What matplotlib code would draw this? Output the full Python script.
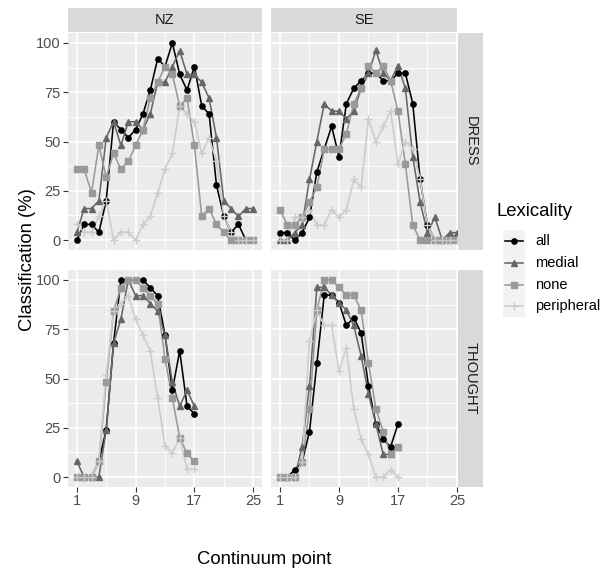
import matplotlib.pyplot as plt

# continuum steps
steps_dress = list(range(1, 26))
steps_thought = list(range(1, 18))

# NZ, DRESS (25 listeners -> steps of 4 %)
nz_dress_all = [0, 8, 8, 4, 20, 60, 56, 52, 56, 64, 76, 92, 88, 100, 84, 76, 88, 68, 64, 28, 12, 4, 8, 0, 0]
nz_dress_medial = [4, 16, 16, 20, 52, 60, 48, 60, 60, 56, 64, 80, 80, 88, 96, 84, 84, 80, 72, 52, 20, 16, 12, 16, 16]
nz_dress_none = [36, 36, 24, 48, 32, 44, 36, 40, 48, 56, 72, 80, 88, 84, 68, 72, 48, 12, 16, 8, 4, 0, 0, 0, 0]
nz_dress_peripheral = [8, 4, 4, 12, 20, 0, 4, 4, 0, 8, 12, 24, 36, 44, 68, 64, 60, 44, 52, 40, 12, 4, 0, 0, 0]

# SE, DRESS
se_dress_all = [3.8, 3.8, 0, 3.8, 11.5, 34.6, 46.2, 57.7, 42.3, 69.2, 76.9, 80.8, 84.6, 84.6, 80.8, 80.8, 84.6, 84.6, 69.2, 30.8, 7.7, 0, 0, 0, 0]
se_dress_medial = [0, 0, 3.8, 7.7, 30.8, 50.0, 69.2, 65.4, 65.4, 61.5, 65.4, 76.9, 84.6, 96.2, 84.6, 80.8, 88.5, 76.9, 42.3, 19.2, 3.8, 11.5, 0, 3.8, 3.8]
se_dress_none = [15.4, 7.7, 7.7, 11.5, 19.2, 26.9, 46.2, 46.2, 46.2, 53.8, 69.2, 76.9, 88.5, 84.6, 88.5, 80.8, 65.4, 38.5, 7.7, 0, 0, 0, 0, 0, 0]
se_dress_peripheral = [0, 0, 11.5, 11.5, 15.4, 7.7, 7.7, 15.4, 11.5, 15.4, 30.8, 26.9, 61.5, 50.0, 57.7, 65.4, 38.5, 50.0, 46.2, 30.8, 7.7, 0, 0, 0, 0]

# NZ, THOUGHT
nz_thought_all = [0, 0, 0, 8, 24, 68, 100, 100, 100, 100, 96, 92, 72, 44, 64, 36, 32]
nz_thought_medial = [8, 0, 0, 0, 24, 68, 80, 100, 92, 92, 88, 84, 72, 48, 36, 44, 36]
nz_thought_none = [0, 0, 0, 8, 48, 84, 96, 100, 100, 96, 92, 88, 60, 40, 20, 12, 8]
nz_thought_peripheral = [0, 0, 0, 8, 52, 84, 88, 92, 80, 72, 64, 40, 16, 12, 20, 4, 4]

# SE, THOUGHT
se_thought_all = [0, 0, 3.8, 7.7, 23.1, 57.7, 92.3, 92.3, 88.5, 76.9, 80.8, 73.1, 46.2, 26.9, 19.2, 15.4, 26.9]
se_thought_medial = [0, 0, 0, 15.4, 46.2, 96.2, 96.2, 92.3, 88.5, 84.6, 76.9, 61.5, 42.3, 26.9, 11.5, 11.5, 15.4]
se_thought_none = [0, 0, 0, 7.7, 34.6, 84.6, 100, 100, 96.2, 92.3, 92.3, 84.6, 57.7, 34.6, 23.1, 11.5, 15.4]
se_thought_peripheral = [0, 0, 0, 7.7, 69.2, 84.6, 76.9, 76.9, 53.8, 65.4, 34.6, 19.2, 11.5, 0, 0, 3.8, 0]

levels = ['all', 'medial', 'none', 'peripheral']
colors = {'all': '#000000', 'medial': '#666666', 'none': '#999999', 'peripheral': '#CCCCCC'}
markers = {'all': 'o', 'medial': '^', 'none': 's', 'peripheral': '+'}
msizes = {'all': 3.8, 'medial': 4.4, 'none': 3.7, 'peripheral': 6.0}

panels = {
    ('NZ', 'DRESS'): (steps_dress, [nz_dress_all, nz_dress_medial, nz_dress_none, nz_dress_peripheral]),
    ('SE', 'DRESS'): (steps_dress, [se_dress_all, se_dress_medial, se_dress_none, se_dress_peripheral]),
    ('NZ', 'THOUGHT'): (steps_thought, [nz_thought_all, nz_thought_medial, nz_thought_none, nz_thought_peripheral]),
    ('SE', 'THOUGHT'): (steps_thought, [se_thought_all, se_thought_medial, se_thought_none, se_thought_peripheral]),
}

plt.rcParams['font.family'] = ['Liberation Sans', 'DejaVu Sans']

W, H = 610, 572
fig = plt.figure(figsize=(W / 100, H / 100), dpi=100)


def box(x0, x1, y0, y1):
    # pixel box -> figure fraction
    return [x0 / W, 1 - y1 / H, (x1 - x0) / W, (y1 - y0) / H]


def strip(x0, x1, y0, y1, label, rot=0):
    sax = fig.add_axes(box(x0, x1, y0, y1))
    sax.set_facecolor('#D9D9D9')
    sax.set_xticks([])
    sax.set_yticks([])
    for spine in sax.spines.values():
        spine.set_visible(False)
    sax.text(0.5, 0.5, label, ha='center', va='center', fontsize=10.5, color='#1A1A1A',
             rotation=rot, transform=sax.transAxes)


# the SE column is cut flush at step 25 in the original
col_x = {'NZ': (68, 262), 'SE': (271, 457)}
col_lim = {'NZ': (-0.2, 26.2), 'SE': (-0.22, 25.0)}
row_y = {'DRESS': (33, 250), 'THOUGHT': (270, 487)}

for (place, vowel), (steps, series) in panels.items():
    x0, x1 = col_x[place]
    y0, y1 = row_y[vowel]
    ax = fig.add_axes(box(x0, x1, y0, y1))
    ax.set_facecolor('#EBEBEB')
    ax.set_xlim(*col_lim[place])
    ax.set_ylim(-5, 105)
    for v in [12.5, 37.5, 62.5, 87.5]:
        ax.axhline(v, color='white', lw=0.6, zorder=0)
    for v in [5, 13, 21]:
        ax.axvline(v, color='white', lw=0.6, zorder=0)
    for v in [0, 25, 50, 75, 100]:
        ax.axhline(v, color='white', lw=1.2, zorder=0)
    for v in [1, 9, 17, 25]:
        ax.axvline(v, color='white', lw=1.2, zorder=0)
    for spine in ax.spines.values():
        spine.set_visible(False)

    for i, lev in enumerate(levels):
        ax.plot(steps, series[i], color=colors[lev], lw=1.15, zorder=2 + i * 0.1)
    for i, lev in enumerate(levels):
        ax.plot(steps, series[i], ls='none', marker=markers[lev], ms=msizes[lev],
                color=colors[lev], mew=1.0, zorder=3 + i * 0.1)

    ax.set_xticks([1, 9, 17, 25])
    ax.set_yticks([0, 25, 50, 75, 100])
    ax.tick_params(length=3.3, width=0.8, color='#333333', labelcolor='#4D4D4D',
                   labelsize=10.5, pad=2)
    if vowel != 'THOUGHT':
        ax.tick_params(axis='x', bottom=False, labelbottom=False)
    if place != 'NZ':
        ax.tick_params(axis='y', left=False, labelleft=False)

    if vowel == 'DRESS':
        strip(x0, x1, 8, 32, place)
    if place == 'SE':
        strip(458, 483, y0, y1, vowel, rot=-90)

fig.text(264 / W, 1 - 560 / H, 'Continuum point', ha='center', va='center', fontsize=13.3)
fig.text(27 / W, 1 - 260 / H, 'Classification (%)', ha='center', va='center',
         rotation=90, fontsize=13.3)

# legend
fig.text(497 / W, 1 - 212 / H, 'Lexicality', ha='left', va='center', fontsize=13.3)
key_y = [241, 263, 285, 306]
for lev, ky in zip(levels, key_y):
    kax = fig.add_axes(box(503, 525, ky - 11, ky + 11))
    kax.set_facecolor('#F2F2F2')
    kax.set_xticks([])
    kax.set_yticks([])
    for spine in kax.spines.values():
        spine.set_visible(False)
    kax.set_xlim(0, 1)
    kax.set_ylim(0, 1)
    kax.plot([0.1, 0.9], [0.5, 0.5], color=colors[lev], lw=1.15)
    kax.plot([0.5], [0.5], marker=markers[lev], ms=msizes[lev], mew=1.0, color=colors[lev])
    fig.text(535 / W, 1 - ky / H, lev, ha='left', va='center', fontsize=10.5)

fig.savefig('out.png', dpi=100)
